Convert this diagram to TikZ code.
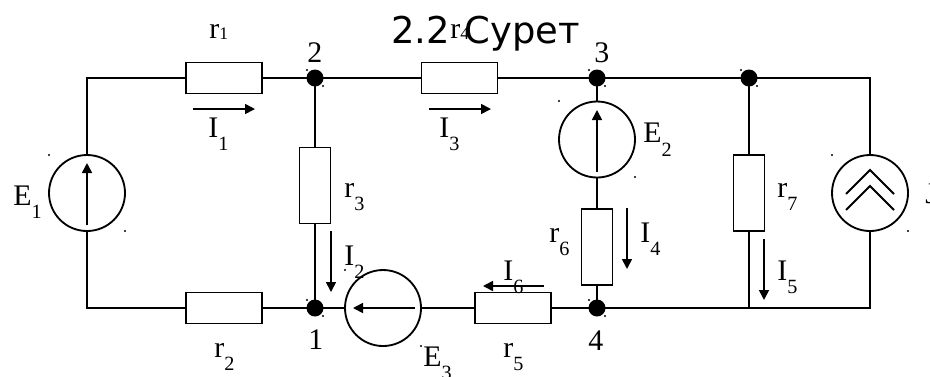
\documentclass[tikz,border=0pt]{standalone}
\usepackage{fontspec}
\setmainfont{Liberation Serif}
\newfontfamily\titlefont{DejaVu Sans}
\usetikzlibrary{arrows.meta}
\newcommand{\lowsub}[2]{#1\raisebox{-7.9pt}{\fontsize{11.5pt}{11.5pt}\selectfont #2}}
\begin{document}
\begin{tikzpicture}[
  res/.style={rectangle, draw, line width=1.05pt, fill=white, minimum width=1.52cm, minimum height=0.62cm, inner sep=0pt},
  resv/.style={rectangle, draw, line width=1.05pt, fill=white, minimum width=0.62cm, minimum height=1.52cm, inner sep=0pt},
  src/.style={circle, draw, line width=1.05pt, fill=white, minimum size=1.52cm, inner sep=0pt},
  junct/.style={circle, fill=black, minimum size=0.34cm, inner sep=0pt},
  wire/.style={line width=1.3pt, line cap=rect},
  cur/.style={line width=0.95pt, -{Triangle[length=0.2cm, width=0.2cm]}},
  lbl/.style={font=\fontsize{17pt}{17pt}\selectfont, inner sep=0pt, anchor=base west},
  node distance=1cm
]
\useasboundingbox (0,0) rectangle (18.6,-7.52);
% junctions and corners
\node[junct] (n2) at (6.3,-1.56) {};
\node[junct, right of=n2, node distance=5.64cm] (n3) {};
\node[junct, right of=n3, node distance=3.04cm] (n5) {};
\node[junct, below of=n2, node distance=4.6cm] (n1) {};
\node[junct, right of=n1, node distance=5.64cm] (n4) {};
\coordinate[left of=n2, node distance=4.56cm] (tl);
\coordinate[left of=n1, node distance=4.56cm] (bl);
\coordinate[right of=n5, node distance=2.42cm] (tr);
\coordinate[below of=tr, node distance=4.6cm] (br);
\coordinate[below of=n5, node distance=4.6cm] (nb);
% resistors
\node[res, left of=n2, node distance=1.82cm] (r1) {};
\node[res, left of=n1, node distance=1.82cm] (r2) {};
\node[res, right of=n2, node distance=2.89cm] (r4) {};
\node[res, right of=n1, node distance=3.96cm] (r5) {};
\node[resv, below of=n2, node distance=2.15cm] (r3) {};
\node[resv, below of=n3, node distance=3.38cm] (r6) {};
\node[resv, below of=n5, node distance=2.3cm] (r7) {};
% sources
\node[src, below of=tl, node distance=2.3cm] (e1) {};
\node[src, below of=n3, node distance=1.23cm] (e2) {};
\node[src, right of=n1, node distance=1.36cm] (e3) {};
\node[src, below of=tr, node distance=2.3cm] (j) {};

\draw[wire] (tl) -- (r1);
\draw[wire] (r1) -- (n2);
\draw[wire] (n2) -- (r4);
\draw[wire] (r4) -- (n3);
\draw[wire] (n3) -- (n5);
\draw[wire] (n5) -- (tr);
\draw[wire] (tr) -- (j);
\draw[wire] (j) -- (br);
\draw[wire] (br) -- (nb);
\draw[wire] (nb) -- (n4);
\draw[wire] (n4) -- (r5);
\draw[wire] (r5) -- (e3);
\draw[wire] (e3) -- (n1);
\draw[wire] (n1) -- (r2);
\draw[wire] (r2) -- (bl);
\draw[wire] (bl) -- (e1);
\draw[wire] (e1) -- (tl);
\draw[wire] (n2) -- (r3);
\draw[wire] (r3) -- (n1);
\draw[wire] (n3) -- (e2);
\draw[wire] (e2) -- (r6);
\draw[wire] (r6) -- (n4);
\draw[wire] (n5) -- (r7);
\draw[wire] (r7) -- (nb);

% arrows in the sources
\coordinate (a1s) at (1.74,-4.5);  \coordinate (a1e) at (1.74,-3.26);
\coordinate (a2s) at (11.94,-3.44); \coordinate (a2e) at (11.94,-2.2);
\coordinate (a3s) at (8.3,-6.16);  \coordinate (a3e) at (7.06,-6.16);
\draw[cur] (a1s) -- (a1e);
\draw[cur] (a2s) -- (a2e);
\draw[cur] (a3s) -- (a3e);
\draw[line width=1.05pt] (16.92,-3.88) -- (17.4,-3.4) -- (17.88,-3.88);
\draw[line width=1.05pt] (16.92,-4.2) -- (17.4,-3.72) -- (17.88,-4.2);

% currents
\coordinate (i1s) at (3.86,-2.18);  \coordinate (i1e) at (5.1,-2.18);
\coordinate (i3s) at (8.58,-2.18);  \coordinate (i3e) at (9.82,-2.18);
\coordinate (i2s) at (6.62,-4.62);  \coordinate (i2e) at (6.62,-5.84);
\coordinate (i4s) at (12.54,-4.16); \coordinate (i4e) at (12.54,-5.38);
\coordinate (i5s) at (15.28,-4.78); \coordinate (i5e) at (15.28,-6);
\coordinate (i6s) at (10.88,-5.72); \coordinate (i6e) at (9.66,-5.72);
\draw[cur] (i1s) -- (i1e);
\draw[cur] (i3s) -- (i3e);
\draw[cur] (i2s) -- (i2e);
\draw[cur] (i4s) -- (i4e);
\draw[cur] (i5s) -- (i5e);
\draw[cur] (i6s) -- (i6e);

% small specks
\foreach \x/\y in {49/155,125/231,559/101,635/177,832/155,908/231,345/270,421/346,
  307/70,323/86,589/70,605/86,741/70,757/86,307/300,323/316,589/300,605/316}
  \fill (\x/50,-\y/50) circle (0.022);

% labels
\node[font=\titlefont\fontsize{21pt}{21pt}\selectfont, inner sep=0pt, anchor=base west] (title) at (7.82,-0.86) {2.2\hspace{0.29cm}Сурет};
\node[lbl] (lr1) at (4.18,-0.76) {r\raisebox{-0.6pt}{\fontsize{10pt}{10pt}\selectfont 1}};
\node[lbl] (lr4) at (9.0,-0.76) {r\raisebox{-0.6pt}{\fontsize{10pt}{10pt}\selectfont 4}};
\node[lbl] (lr2) at (4.28,-7.14) {\lowsub{r}{2}};
\node[lbl] (lr3) at (6.88,-3.94) {\lowsub{r}{3}};
\node[lbl] (lr5) at (10.06,-7.14) {\lowsub{r}{5}};
\node[lbl] (lr6) at (10.98,-4.84) {\lowsub{r}{6}};
\node[lbl] (lr7) at (15.54,-3.94) {\lowsub{r}{7}};
\node[lbl] (le1) at (0.26,-4.1) {\lowsub{E}{1}};
\node[lbl] (le2) at (12.86,-2.85) {\lowsub{E}{2}};
\node[lbl] (le3) at (8.46,-7.32) {\lowsub{E}{3}};
\node[lbl] (li1) at (4.16,-2.74) {\lowsub{I}{1}};
\node[lbl] (li2) at (6.88,-5.3) {\lowsub{I}{2}};
\node[lbl] (li3) at (8.78,-2.74) {\lowsub{I}{3}};
\node[lbl] (li4) at (12.8,-4.84) {\lowsub{I}{4}};
\node[lbl] (li5) at (15.54,-5.6) {\lowsub{I}{5}};
\node[lbl] (li6) at (10.06,-5.6) {\lowsub{I}{6}};
\node[lbl] (lj) at (18.5,-4.06) {J};
\node[lbl] (l2) at (6.14,-1.24) {2};
\node[lbl] (l3) at (11.88,-1.24) {3};
\node[lbl] (l1) at (6.16,-6.98) {1};
\node[lbl] (l4) at (11.76,-7.0) {4};
\end{tikzpicture}
\end{document}
